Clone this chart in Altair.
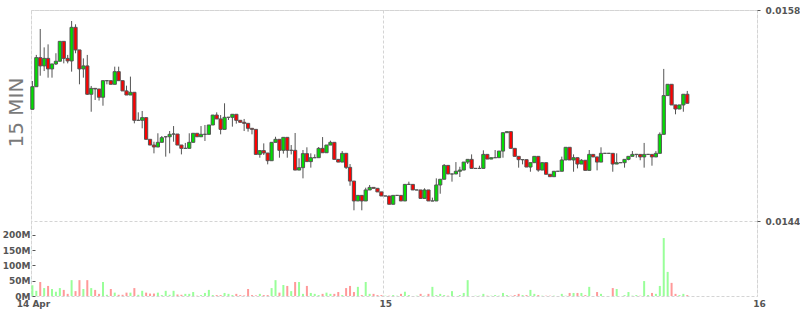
import altair as alt
import pandas as pd

# 15-minute candles, 14 Apr 01:30 -> 15 Apr ~19:15
open_p = [
0.015141,0.015291,0.015484,0.015429,0.015479,0.015409,0.015442,0.015460,0.015592,0.015479,
0.015462,0.015685,0.015535,0.015409,0.015429,0.015241,0.015280,0.015276,0.015221,0.015331,
0.015331,0.015307,0.015391,0.015331,0.015263,0.015236,0.015254,0.015068,0.015068,0.015086,
0.014942,0.014904,0.014891,0.014922,0.014959,0.014959,0.014977,0.014977,0.014904,0.014882,
0.014882,0.014922,0.014982,0.014959,0.014975,0.014975,0.015037,0.015103,0.015077,0.015008,
0.015088,0.015088,0.015108,0.015068,0.015055,0.015048,0.015015,0.015008,0.014842,0.014867,
0.014851,0.014800,0.014922,0.014942,0.014869,0.014955,0.014869,0.014869,0.014738,0.014754,
0.014847,0.014794,0.014820,0.014820,0.014882,0.014853,0.014904,0.014922,0.014809,0.014791,
0.014849,0.014756,0.014665,0.014533,0.014570,0.014533,0.014606,0.014623,0.014617,0.014593,
0.014566,0.014566,0.014511,0.014570,0.014570,0.014533,0.014643,0.014643,0.014606,0.014606,
0.014550,0.014606,0.014533,0.014533,0.014639,0.014677,0.014769,0.014712,0.014712,0.014730,
0.014738,0.014791,0.014809,0.014749,0.014749,0.014749,0.014842,0.014811,0.014820,0.014820,
0.014864,0.014986,0.014993,0.014882,0.014829,0.014807,0.014807,0.014758,0.014787,0.014829,
0.014738,0.014787,0.014710,0.014694,0.014730,0.014730,0.014805,0.014889,0.014805,0.014820,
0.014778,0.014803,0.014736,0.014842,0.014825,0.014791,0.014849,0.014849,0.014849,0.014778,
0.014787,0.014787,0.014809,0.014829,0.014842,0.014842,0.014825,0.014842,0.014842,0.014825,
0.014849,0.014975,0.015232,0.015307,0.015170,0.015143,0.015170,0.015241]

close_p = [
0.015291,0.015484,0.015429,0.015479,0.015409,0.015442,0.015460,0.015592,0.015479,0.015462,
0.015685,0.015535,0.015409,0.015429,0.015241,0.015280,0.015276,0.015221,0.015331,0.015331,
0.015307,0.015391,0.015331,0.015263,0.015236,0.015254,0.015068,0.015068,0.015086,0.014942,
0.014904,0.014891,0.014922,0.014953,0.014959,0.014975,0.014977,0.014904,0.014882,0.014882,
0.014922,0.014982,0.014959,0.014975,0.014975,0.015037,0.015103,0.015077,0.015008,0.015088,
0.015088,0.015108,0.015068,0.015055,0.015048,0.015015,0.015008,0.014842,0.014867,0.014851,
0.014800,0.014922,0.014942,0.014869,0.014955,0.014869,0.014869,0.014738,0.014754,0.014847,
0.014794,0.014820,0.014820,0.014882,0.014853,0.014904,0.014922,0.014809,0.014791,0.014849,
0.014756,0.014665,0.014533,0.014570,0.014533,0.014606,0.014623,0.014617,0.014593,0.014566,
0.014566,0.014511,0.014570,0.014570,0.014533,0.014643,0.014643,0.014606,0.014606,0.014550,
0.014606,0.014533,0.014533,0.014639,0.014677,0.014769,0.014712,0.014712,0.014730,0.014738,
0.014791,0.014809,0.014749,0.014749,0.014749,0.014842,0.014811,0.014820,0.014820,0.014864,
0.014986,0.014993,0.014882,0.014829,0.014807,0.014807,0.014758,0.014787,0.014829,0.014738,
0.014787,0.014710,0.014694,0.014730,0.014730,0.014805,0.014889,0.014805,0.014820,0.014778,
0.014803,0.014736,0.014842,0.014825,0.014791,0.014849,0.014849,0.014849,0.014778,0.014787,
0.014787,0.014809,0.014829,0.014842,0.014842,0.014825,0.014842,0.014842,0.014825,0.014849,
0.014975,0.015232,0.015307,0.015170,0.015143,0.015170,0.015241,0.015181]

high_p = [
0.015329,0.015502,0.015674,0.015552,0.015572,0.015442,0.015513,0.015592,0.015592,0.015502,
0.015727,0.015705,0.015535,0.015479,0.015502,0.015296,0.015280,0.015276,0.015331,0.015331,
0.015331,0.015424,0.015424,0.015331,0.015298,0.015358,0.015254,0.015121,0.015130,0.015086,
0.014942,0.014926,0.014982,0.014964,0.014959,0.014997,0.015030,0.014977,0.014904,0.014918,
0.014982,0.014982,0.014982,0.015030,0.015037,0.015037,0.015103,0.015121,0.015103,0.015181,
0.015088,0.015108,0.015108,0.015068,0.015077,0.015048,0.015015,0.015008,0.014867,0.014915,
0.014851,0.014922,0.014959,0.014942,0.014955,0.014955,0.014904,0.014984,0.014816,0.014871,
0.014889,0.014849,0.014842,0.014891,0.014957,0.014904,0.014933,0.014922,0.014809,0.014864,
0.014849,0.014778,0.014665,0.014570,0.014570,0.014621,0.014639,0.014623,0.014617,0.014593,
0.014566,0.014566,0.014570,0.014570,0.014570,0.014643,0.014661,0.014643,0.014606,0.014606,
0.014617,0.014606,0.014555,0.014683,0.014677,0.014778,0.014769,0.014712,0.014791,0.014760,
0.014791,0.014809,0.014842,0.014749,0.014767,0.014869,0.014842,0.014820,0.014871,0.014864,
0.014986,0.014993,0.014993,0.014882,0.014829,0.014807,0.014807,0.014787,0.014829,0.014829,
0.014787,0.014787,0.014710,0.014730,0.014730,0.014827,0.014889,0.014889,0.014842,0.014820,
0.014811,0.014803,0.014871,0.014842,0.014825,0.014889,0.014849,0.014849,0.014849,0.014849,
0.014787,0.014809,0.014829,0.014864,0.014842,0.014842,0.014918,0.014842,0.014842,0.014864,
0.014988,0.015409,0.015307,0.015307,0.015170,0.015170,0.015241,0.015263]

low_p = [
0.015141,0.015291,0.015364,0.015395,0.015351,0.015351,0.015435,0.015460,0.015446,0.015446,
0.015391,0.015513,0.015307,0.015351,0.015236,0.015125,0.015203,0.015199,0.015165,0.015307,
0.015307,0.015307,0.015331,0.015263,0.015236,0.015236,0.015048,0.015068,0.015015,0.014942,
0.014904,0.014849,0.014891,0.014922,0.014827,0.014849,0.014926,0.014904,0.014842,0.014882,
0.014882,0.014922,0.014959,0.014959,0.014931,0.014975,0.015037,0.015077,0.014975,0.015008,
0.015070,0.015026,0.015046,0.015055,0.014997,0.014993,0.014975,0.014842,0.014820,0.014838,
0.014776,0.014800,0.014922,0.014820,0.014847,0.014820,0.014842,0.014738,0.014738,0.014683,
0.014794,0.014754,0.014820,0.014820,0.014853,0.014853,0.014904,0.014809,0.014791,0.014791,
0.014745,0.014634,0.014471,0.014533,0.014471,0.014533,0.014606,0.014617,0.014593,0.014566,
0.014566,0.014511,0.014511,0.014570,0.014533,0.014533,0.014643,0.014606,0.014606,0.014550,
0.014550,0.014533,0.014533,0.014533,0.014581,0.014677,0.014712,0.014661,0.014712,0.014692,
0.014738,0.014778,0.014749,0.014749,0.014749,0.014749,0.014811,0.014811,0.014820,0.014820,
0.014820,0.014986,0.014882,0.014829,0.014754,0.014776,0.014758,0.014727,0.014787,0.014727,
0.014738,0.014710,0.014694,0.014694,0.014730,0.014730,0.014805,0.014805,0.014727,0.014749,
0.014778,0.014736,0.014736,0.014825,0.014736,0.014791,0.014849,0.014849,0.014727,0.014778,
0.014787,0.014754,0.014803,0.014829,0.014820,0.014803,0.014754,0.014842,0.014767,0.014825,
0.014849,0.014975,0.015232,0.015170,0.015108,0.015143,0.015125,0.015181]

# volume in millions
volume_m = [
35,17,46,26,33,23,14,26,20,7,
52,16,52,23,52,26,20,7,46,4,
23,11,4,4,11,11,26,4,17,11,
8,8,11,3,17,4,17,5,4,7,
7,13,1,3,10,20,3,3,3,10,
7,3,7,3,2,23,3,2,7,3,
3,26,52,11,36,33,16,46,46,7,
33,10,7,3,7,11,7,7,13,3,
26,33,13,30,3,46,7,7,3,3,
1,1,3,1,7,14,3,0,1,7,
1,7,30,3,7,3,1,16,0,3,
10,52,0,1,1,7,1,1,3,1,
10,3,1,3,7,3,3,20,7,3,
1,1,1,1,0,7,1,10,10,10,
10,3,30,0,13,7,0,0,26,23,
0,3,13,1,3,1,49,3,10,7,
33,190,79,43,7,3,7,3]

x_start, x_end = 1.536, 47.82            # visible window, hours after 14 Apr 00:00
tick_hours = [x_start, 24, x_end]
tick_labels = ["14 Apr", "15", "16"]
price_ticks = [0.0144, 0.0158]
volume_ticks = [0, 50, 100, 150, 200]

n = len(close_p)
assert len(open_p) == n and len(high_p) == n and len(low_p) == n and len(volume_m) == n

# candle mid-times (hours after 14 Apr 00:00), first candle 01:30
hours = [1.5 + 0.25 * i + 0.125 for i in range(n)]

df = pd.DataFrame({
    "t": hours, "o": open_p, "h": high_p, "l": low_p, "c": close_p, "v": volume_m,
})
df["dir"] = ["up" if c >= o else "down" for o, c in zip(open_p, close_p)]

label_expr = " : ".join(
    f"datum.value == {h} ? '{lab}'" for h, lab in zip(tick_hours, tick_labels)
) + " : ''"

FONT = "DejaVu Sans"
GRID = "#d4d4d4"

x_enc = alt.X(
    "t:Q",
    scale=alt.Scale(domain=[x_start, x_end], nice=False, zero=False, padding=0),
    axis=alt.Axis(
        values=tick_hours, labelExpr=label_expr, title=None,
        grid=True, gridColor=GRID, gridDash=[3, 2], ticks=False, domain=False,
        labelFlush=False, labelOverlap=False, labelAlign="center", labelOffset=2,
        labelPadding=3,
        labelFont=FONT, labelFontSize=9, labelFontWeight="bold", labelColor="#555555",
    ),
)

price_scale = alt.Scale(domain=[0.0139024, 0.0158], nice=False, zero=False, padding=0)

vol = alt.Chart(df).mark_bar(size=2).encode(
    x=x_enc,
    y=alt.Y(
        "v:Q",
        scale=alt.Scale(domain=[0, 937.7], nice=False, padding=0),
        axis=alt.Axis(
            orient="left", values=volume_ticks, labelExpr="datum.value + 'M'",
            offset=-4, tickSize=3, tickColor="#555555", domain=False, grid=False,
            labelPadding=2, labelFont=FONT, labelFontSize=9, labelFontWeight="bold",
            labelColor="#555555", labelFlush=False, labelOverlap=False,
            title="15 MIN", titleFont=FONT, titleFontSize=20, titleFontWeight="normal",
            titleColor="#7a7a7a", titleAngle=270, titleX=-19, titleY=102,
            titleAlign="center", titleBaseline="middle",
        ),
    ),
    color=alt.Color("dir:N", scale=alt.Scale(domain=["up", "down"], range=["#99ff99", "#ff9999"]), legend=None),
)

wick = alt.Chart(df).mark_rule(color="#555555", strokeWidth=1).encode(
    x=x_enc,
    y=alt.Y(
        "l:Q", scale=price_scale,
        axis=alt.Axis(
            orient="right", values=price_ticks, format=".4f", title=None,
            grid=True, gridColor=GRID, gridDash=[3, 2], domain=False,
            ticks=True, tickSize=3, tickColor="#555555", labelPadding=5,
            labelFont=FONT, labelFontSize=9, labelFontWeight="bold", labelColor="#555555",
            labelFlush=False, labelOverlap=False,
        ),
    ),
    y2="h:Q",
)

body = alt.Chart(df).mark_bar(size=3.2, stroke="#555555", strokeWidth=1).encode(
    x=x_enc,
    y=alt.Y("o:Q", scale=price_scale, axis=None),
    y2="c:Q",
    color=alt.Color("dir:N", scale=alt.Scale(domain=["up", "down"], range=["#00e000", "#ff0000"]), legend=None),
)

chart = (
    alt.layer(vol, wick, body)
    .resolve_scale(y="independent", color="independent")
    .properties(
        width=726, height=286,
        autosize=alt.AutoSizeParams(type="none"),
        padding={"left": 31, "top": 10, "right": 43, "bottom": 19},
    )
    .configure(font=FONT)
    .configure_view(stroke=GRID, strokeDash=[3, 2], strokeWidth=1)
)

chart.save("out.html", embed_options={"renderer": "svg", "actions": False})
